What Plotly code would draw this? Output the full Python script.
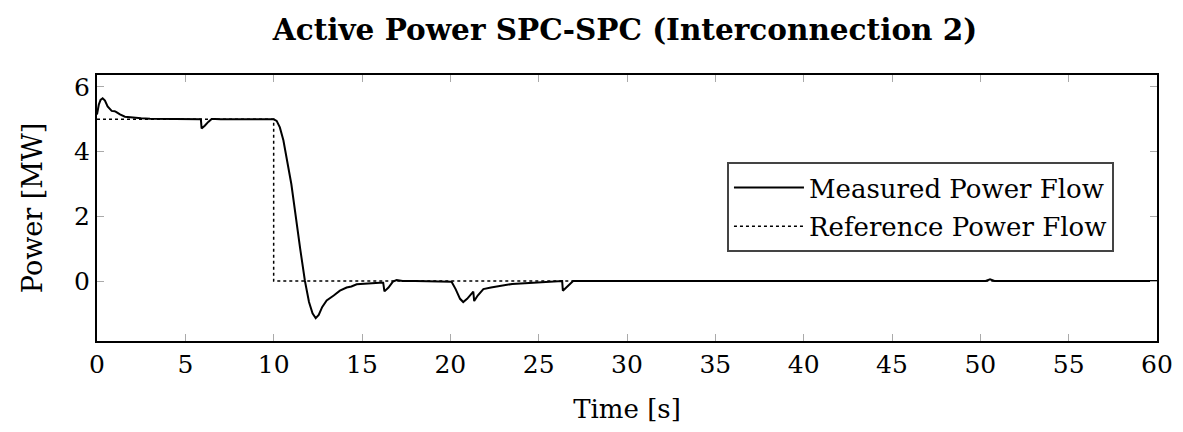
import plotly.graph_objects as go

# Measured power flow (time in s, power in MW)
time_measured = [0, 0.1, 0.2, 0.32, 0.45, 0.6, 0.83, 1.0, 1.1, 1.3, 1.58, 2.0, 2.5, 3.0, 4.0, 5.0,
                 5.88, 5.92, 6.1, 6.3, 6.49, 6.7, 7.0, 8.0, 9.0, 10.0, 10.17, 10.35, 10.55, 11.0,
                 11.5, 11.77, 12.0, 12.2, 12.38, 12.55, 12.75, 13.0, 13.4, 13.75, 14.13, 14.4,
                 14.7, 15.3, 16.0, 16.2, 16.27, 16.5, 16.75, 16.96, 17.3, 18.0, 20.0, 20.07,
                 20.3, 20.55, 20.73, 20.95, 21.3, 21.35, 21.55, 21.87, 22.3, 22.8, 23.5, 24.7,
                 26.0, 26.33, 26.37, 26.6, 26.95, 27.5, 30.0, 40.0, 50.3, 50.55, 50.8, 55.0, 60.0]
power_measured = [5.15, 5.45, 5.6, 5.65, 5.58, 5.4, 5.26, 5.25, 5.22, 5.15, 5.08, 5.05, 5.03, 5.02, 5.01, 5.0,
                  5.0, 4.72, 4.8, 4.92, 5.01, 5.01, 5.0, 5.0, 5.0, 5.0, 4.95, 4.75, 4.35, 3.0,
                  1.0, 0.0, -0.65, -1.0, -1.15, -1.05, -0.8, -0.6, -0.45, -0.3, -0.2, -0.17,
                  -0.1, -0.07, -0.05, -0.05, -0.32, -0.2, -0.02, 0.03, 0.0, 0.0, 0.0, -0.02,
                  -0.25, -0.55, -0.65, -0.55, -0.33, -0.62, -0.45, -0.25, -0.2, -0.15, -0.09, -0.05,
                  -0.01, 0.0, -0.3, -0.18, 0.0, 0.0, 0.0, 0.0, 0.0, 0.05, 0.0, 0.0, 0.0]

# Reference power flow
time_reference = [0, 10, 10, 60]
power_reference = [5, 5, 0, 0]

x_ticks = [0, 5, 10, 15, 20, 25, 30, 35, 40, 45, 50, 55, 60]
y_ticks = [0, 2, 4, 6]

FONT = "DejaVu Serif"

fig = go.Figure()
fig.add_trace(go.Scatter(x=time_measured, y=power_measured, mode="lines",
                         name="Measured Power Flow", legendgroup="m",
                         line=dict(color="black", width=2)))
fig.add_trace(go.Scatter(x=time_reference, y=power_reference, mode="lines",
                         name="Reference Power Flow", legendgroup="r",
                         line=dict(color="black", width=1.5, dash="dot")))

axis_common = dict(showgrid=False, zeroline=False, showline=True, linecolor="black", linewidth=2,
                   mirror="allticks", ticks="inside", ticklen=7, tickcolor="#aaaaaa", tickwidth=1,
                   tickfont=dict(family=FONT, size=25, color="black"))

fig.update_xaxes(range=[0, 60], tickvals=x_ticks,
                 title=dict(text="Time [s]", font=dict(family=FONT, size=26, color="black"), standoff=22),
                 **axis_common)
fig.update_yaxes(range=[-1.855, 6.37], tickvals=y_ticks,
                 title=dict(text="Power [MW]", font=dict(family=FONT, size=27, color="black"), standoff=24),
                 **axis_common)

fig.update_layout(
    width=1183, height=432,
    margin=dict(l=89, r=34, t=67, b=99),
    paper_bgcolor="white", plot_bgcolor="white",
    title=dict(text="<b>Active Power SPC-SPC (Interconnection 2)</b>",
               font=dict(family=FONT, size=29.5, color="black"),
               x=0.5216, xanchor="center", y=0.95, yanchor="middle"),
    legend=dict(x=0.9594, xanchor="right", y=0.673, yanchor="top",
                bordercolor="#444444", borderwidth=2, bgcolor="white",
                font=dict(family=FONT, size=26, color="black"),
                tracegroupgap=2, itemwidth=70),
    showlegend=True,
)

fig.write_html("out.html")
